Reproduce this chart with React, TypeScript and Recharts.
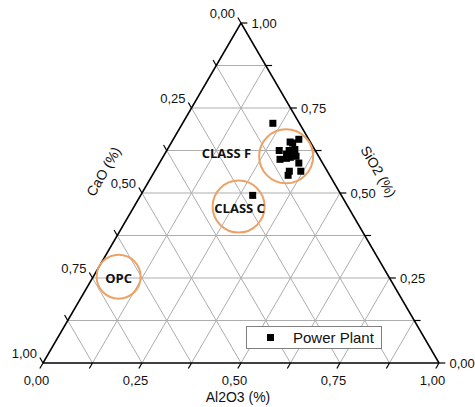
import React from "react";
import { Legend, ReferenceDot, ReferenceLine, Scatter, ScatterChart, XAxis, YAxis } from "recharts";

// ternary fractions: Al2O3 (bottom), SiO2 (right), CaO (left)
const al2o3 = [0.228, 0.299, 0.317, 0.307, 0.284, 0.309, 0.322, 0.308, 0.318, 0.335, 0.299, 0.314, 0.322, 0.352, 0.369, 0.34, 0.343, 0.283];
const sio2 = [0.705, 0.65, 0.658, 0.647, 0.625, 0.625, 0.628, 0.614, 0.611, 0.608, 0.599, 0.602, 0.605, 0.588, 0.564, 0.564, 0.552, 0.493];
const cao = [0.067, 0.051, 0.025, 0.046, 0.091, 0.066, 0.05, 0.078, 0.071, 0.057, 0.102, 0.084, 0.073, 0.06, 0.067, 0.096, 0.105, 0.224];

// circled regions
const zoneNames = ["CLASS F", "CLASS C", "OPC"];
const zoneAl = [0.31, 0.264, 0.064];
const zoneSi = [0.608, 0.46, 0.254];
const zoneR = [27, 26, 22];

const gridSteps = [0.125, 0.25, 0.375, 0.5, 0.625, 0.75, 0.875];
const tickSteps = [0, 0.125, 0.25, 0.375, 0.5, 0.625, 0.75, 0.875, 1];
const labelSteps = [0, 0.25, 0.5, 0.75, 1];
const tickLabels = ["0,00", "0,25", "0,50", "0,75", "1,00"];

const H = Math.sqrt(3) / 2;
const px = (al: number, si: number) => al + si / 2;
const py = (si: number) => si * H;

const points = al2o3.map((a, i) => ({ x: px(a, sio2[i]), y: py(sio2[i]), cao: cao[i] }));

const FONT = "'Liberation Sans', Arial, sans-serif";
const BOLD = "'Open Sans', sans-serif";
const GRID = "#adadad";
const ORANGE = "#eca265";
const TL = 0.016;

const seg = (a1: number, s1: number, a2: number, s2: number) => [
  { x: px(a1, s1), y: py(s1) },
  { x: px(a2, s2), y: py(s2) },
];

const textShape = (txt: string, dx: number, dy: number, anchor: string, opts: any = {}) => (p: any) => (
  <text
    x={p.cx + dx}
    y={p.cy + dy}
    textAnchor={anchor}
    dominantBaseline="central"
    fontFamily={opts.family || FONT}
    fontSize={opts.size || 13}
    fontWeight={opts.weight || "normal"}
    fill="#111"
    transform={opts.rotate ? `rotate(${opts.rotate} ${p.cx + dx} ${p.cy + dy})` : undefined}
  >
    {txt}
  </text>
);

const square = (p: any) => <rect x={p.cx - 3.5} y={p.cy - 3.5} width={7} height={7} fill="#000" />;

const LegendBox = () => (
  <div
    style={{
      width: 134,
      height: 21,
      border: "1px solid #808080",
      background: "#fff",
      display: "flex",
      alignItems: "center",
      fontFamily: FONT,
      fontSize: 15,
      color: "#111",
      boxSizing: "content-box",
    }}
  >
    <span style={{ width: 7, height: 7, background: "#000", marginLeft: 20, marginRight: 19 }} />
    <span>Power Plant</span>
  </div>
);

export default function App() {
  return (
    <div style={{ position: "absolute", left: 0, top: 0, background: "#fff" }}>
      <ScatterChart width={475} height={407} margin={{ top: 23, left: 43, right: 36, bottom: 44 }}>
        <XAxis type="number" dataKey="x" domain={[0, 1]} hide />
        <YAxis type="number" dataKey="y" domain={[0, H]} hide />

        {gridSteps.map((t) => (
          <ReferenceLine key={"s" + t} segment={seg(0, t, 1 - t, t)} stroke={GRID} strokeWidth={1} ifOverflow="visible" />
        ))}
        {gridSteps.map((t) => (
          <ReferenceLine key={"a" + t} segment={seg(t, 0, t, 1 - t)} stroke={GRID} strokeWidth={1} ifOverflow="visible" />
        ))}
        {gridSteps.map((t) => (
          <ReferenceLine key={"c" + t} segment={seg(1 - t, 0, 0, 1 - t)} stroke={GRID} strokeWidth={1} ifOverflow="visible" />
        ))}

        {/* triangle */}
        <ReferenceLine segment={seg(0, 0, 1, 0)} stroke="#000" strokeWidth={1.5} ifOverflow="visible" />
        <ReferenceLine segment={seg(0, 0, 0, 1)} stroke="#000" strokeWidth={1.5} ifOverflow="visible" />
        <ReferenceLine segment={seg(1, 0, 0, 1)} stroke="#000" strokeWidth={1.5} ifOverflow="visible" />

        {/* ticks */}
        {tickSteps.map((t) => (
          <ReferenceLine
            key={"tl" + t}
            segment={[
              { x: px(0, 1 - t), y: py(1 - t) },
              { x: px(0, 1 - t) - TL * 0.5, y: py(1 - t) + TL * H },
            ]}
            stroke="#000"
            strokeWidth={1.2}
            ifOverflow="visible"
          />
        ))}
        {tickSteps.map((t) => (
          <ReferenceLine
            key={"tb" + t}
            segment={[
              { x: px(t, 0), y: 0 },
              { x: px(t, 0) - TL * 0.5, y: -TL * H },
            ]}
            stroke="#000"
            strokeWidth={1.2}
            ifOverflow="visible"
          />
        ))}
        {tickSteps.map((t) => (
          <ReferenceLine
            key={"tr" + t}
            segment={[
              { x: px(1 - t, t), y: py(t) },
              { x: px(1 - t, t) + TL, y: py(t) },
            ]}
            stroke="#000"
            strokeWidth={1.2}
            ifOverflow="visible"
          />
        ))}

        {/* tick labels */}
        {labelSteps.map((t, i) => (
          <ReferenceDot key={"ll" + t} x={px(0, 1 - t)} y={py(1 - t)} r={0} ifOverflow="visible" shape={textShape(tickLabels[i], -6, -10, "end")} />
        ))}
        {labelSteps.map((t, i) => (
          <ReferenceDot key={"lb" + t} x={px(t, 0)} y={0} r={0} ifOverflow="visible" shape={textShape(tickLabels[i], -6.5, 17.5, "middle")} />
        ))}
        {labelSteps.map((t, i) => (
          <ReferenceDot key={"lr" + t} x={px(1 - t, t)} y={py(t)} r={0} ifOverflow="visible" shape={textShape(tickLabels[i], 10.5, 0, "start")} />
        ))}

        {/* axis titles */}
        <ReferenceDot x={px(0.5, 0)} y={0} r={0} ifOverflow="visible" shape={textShape("Al2O3 (%)", -3, 34, "middle", { size: 14 })} />
        <ReferenceDot x={px(0.5, 0.5)} y={py(0.5)} r={0} ifOverflow="visible" shape={textShape("SiO2 (%)", 38.5, -21.5, "middle", { size: 14, rotate: 60 })} />
        <ReferenceDot x={px(0, 0.5)} y={py(0.5)} r={0} ifOverflow="visible" shape={textShape("CaO (%)", -38.5, -21.5, "middle", { size: 14, rotate: -60 })} />

        {/* zones */}
        {zoneNames.map((n, i) => (
          <ReferenceDot key={"z" + n} x={px(zoneAl[i], zoneSi[i])} y={py(zoneSi[i])} r={zoneR[i]} fill="none" stroke={ORANGE} strokeWidth={2} ifOverflow="visible" />
        ))}
        <ReferenceDot x={px(zoneAl[0], zoneSi[0])} y={py(zoneSi[0])} r={0} ifOverflow="visible" shape={textShape(zoneNames[0], -35, -3, "end", { family: BOLD, weight: 700, size: 13 })} />
        <ReferenceDot x={px(zoneAl[1], zoneSi[1])} y={py(zoneSi[1])} r={0} ifOverflow="visible" shape={textShape(zoneNames[1], 1, 1, "middle", { family: BOLD, weight: 700, size: 13 })} />
        <ReferenceDot x={px(zoneAl[2], zoneSi[2])} y={py(zoneSi[2])} r={0} ifOverflow="visible" shape={textShape(zoneNames[2], 0, 1, "middle", { family: BOLD, weight: 700, size: 13 })} />

        <Scatter name="Power Plant" data={points} shape={square} isAnimationActive={false} />

        <Legend
          layout="horizontal"
          verticalAlign="middle"
          align="center"
          content={() => <LegendBox />}
          wrapperStyle={{ left: 246, top: 326, width: 136, height: 23 }}
        />
      </ScatterChart>
    </div>
  );
}
